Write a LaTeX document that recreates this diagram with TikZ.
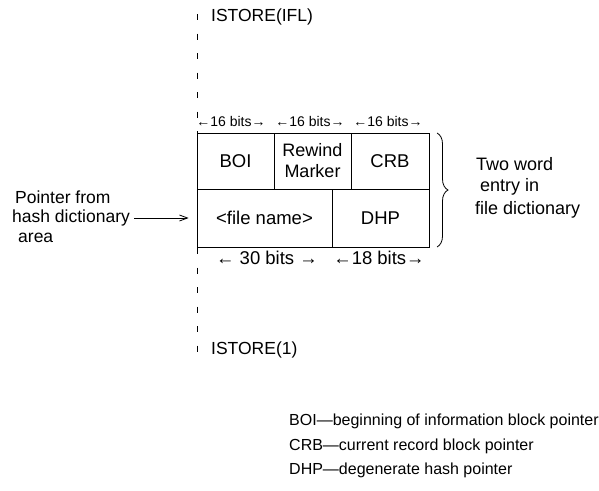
\documentclass[tikz,border=0pt]{standalone}
\usepackage{fontspec}
\setmainfont{Liberation Sans}
\usetikzlibrary{decorations.pathreplacing,arrows.meta}
\begin{document}
\begin{tikzpicture}[x=1pt,y=-1pt,
  cell/.style={draw,line width=0.8pt,inner sep=0pt,font=\fontsize{18.5}{20}\selectfont,align=center},
  lbl/.style={inner sep=0pt,font=\fontsize{17.5}{19}\selectfont},
  side/.style={inner sep=0pt,anchor=west,font=\fontsize{18}{20}\selectfont},
  small/.style={inner sep=0pt,font=\fontsize{14}{16}\selectfont},
  bits/.style={inner sep=0pt,font=\fontsize{18.5}{20}\selectfont},
  leg/.style={inner sep=0pt,anchor=west,font=\fontsize{16}{18}\selectfont}]
\useasboundingbox (0,0) rectangle (599,490);
% dashed storage line
\coordinate (top) at (197,14);
\coordinate (bot) at (197,357);
\draw[line width=0.8pt,dash pattern=on 6pt off 13.5pt] (top) -- (bot);
% cells
\node[cell,minimum width=77pt,minimum height=56pt] (boi) at (235.5,161) {BOI};
\node[cell,minimum width=77pt,minimum height=56pt,font=\fontsize{18}{21}\selectfont] (rew) at (312.5,161) {Rewind\\Marker};
\node[cell,minimum width=78pt,minimum height=56pt] (crb) at (390,161) {CRB};
\node[cell,minimum width=135pt,minimum height=58pt] (fn) at (264.5,218) {<file name>};
\node[cell,minimum width=97pt,minimum height=58pt] (dhp) at (380.5,218) {DHP};
% bit widths
\node[small] (b1) at (231,121) {←16 bits→};
\node[small] (b2) at (310,121) {←16 bits→};
\node[small] (b3) at (388,121) {←16 bits→};
\node[bits] (b4) at (267,258) {← 30 bits →};
\node[bits] (b5) at (379,258) {←18 bits→};
% ISTORE labels
\node[lbl,anchor=west] (ifl) at (211,17) {ISTORE(IFL)};
\node[lbl,anchor=west] (one) at (211,350) {ISTORE(1)};
% pointer
\node[side,font=\fontsize{17.5}{19}\selectfont] (p1) at (15,197) {Pointer from};
\node[side,font=\fontsize{17.5}{19}\selectfont] (p2) at (12,218) {hash dictionary};
\node[side,font=\fontsize{17.5}{19}\selectfont] (p3) at (18,238) {area};
\draw[line width=0.8pt,-{Straight Barb[length=8pt,width=6pt]}] ([xshift=4pt]p2.east) -- ([xshift=-8pt]fn.west);
% brace
\draw[line width=0.8pt,decorate,decoration={brace,amplitude=11pt}] (437,133) -- (437,247);
\node[side] (t1) at (476,164) {Two word};
\node[side] (t2) at (480,187) {entry in};
\node[side] (t3) at (475,210) {file dictionary};
% legend
\node[leg] (l1) at (289,421) {BOI—beginning of information block pointer};
\node[leg] (l2) at (289,446) {CRB—current record block pointer};
\node[leg] (l3) at (289,470) {DHP—degenerate hash pointer};
\end{tikzpicture}
\end{document}
